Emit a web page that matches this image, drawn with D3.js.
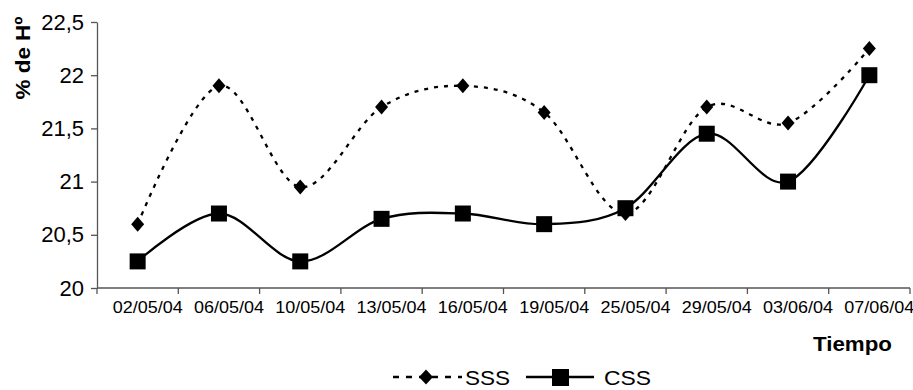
<!DOCTYPE html>
<html>
<head>
<meta charset="utf-8">
<script src="https://cdn.jsdelivr.net/npm/d3@7"></script>
<style>
  html, body { margin: 0; padding: 0; background: #fff; }
  svg { display: block; font-family: "Liberation Sans", Arial, sans-serif; }
</style>
</head>
<body>
<svg id="chart" width="913" height="390"></svg>
<script>
// Sampling dates
const dates = ["02/05/04", "06/05/04", "10/05/04", "13/05/04", "16/05/04",
               "19/05/04", "25/05/04", "29/05/04", "03/06/04", "07/06/04"];
// % humidity per series
const sss = [20.6, 21.9, 20.95, 21.7, 21.9, 21.65, 20.7, 21.7, 21.55, 22.25];
const css = [20.25, 20.7, 20.25, 20.65, 20.7, 20.6, 20.75, 21.45, 21.0, 22.0];
const yTicks = [20, 20.5, 21, 21.5, 22, 22.5];

const svg = d3.select("#chart");
const plotL = 97, plotR = 910, plotT = 22, plotB = 288;

const x = d3.scaleBand().domain(dates).range([plotL, plotR]).padding(0);
const y = d3.scaleLinear().domain([20, 22.5]).range([plotB, plotT]);
const cx = d => x(d) + x.bandwidth() / 2;
const fmt = v => String(v).replace(".", ",");

// Y axis
const yAxis = svg.append("g")
  .attr("transform", `translate(${plotL},0)`)
  .call(d3.axisLeft(y).tickValues(yTicks).tickFormat(fmt).tickSize(6).tickSizeOuter(0).tickPadding(7));
yAxis.select(".domain").attr("stroke", "#555").attr("stroke-width", 1.3);
yAxis.selectAll(".tick line").attr("stroke", "#555").attr("stroke-width", 1.3);
yAxis.selectAll(".tick text").attr("font-size", 22).attr("font-family", "Liberation Sans, Arial, sans-serif").attr("fill", "#000");

// X axis: baseline with ticks at category boundaries
const xg = svg.append("g");
xg.append("line").attr("x1", plotL).attr("x2", plotR).attr("y1", plotB).attr("y2", plotB)
  .attr("stroke", "#555").attr("stroke-width", 1.3);
const bounds = dates.map(d => x(d)).concat([x(dates[dates.length - 1]) + x.bandwidth()]);
xg.selectAll("line.tk").data(bounds).join("line").attr("class", "tk")
  .attr("x1", d => d).attr("x2", d => d).attr("y1", plotB).attr("y2", plotB + 6)
  .attr("stroke", "#555").attr("stroke-width", 1.3);
xg.selectAll("text").data(dates).join("text")
  .attr("x", d => cx(d) + 10).attr("y", plotB + 25)
  .attr("text-anchor", "middle").attr("font-size", 17)
  .attr("textLength", 70).attr("lengthAdjust", "spacingAndGlyphs")
  .attr("fill", "#000")
  .text(d => d);

// Axis titles
svg.append("text")
  .attr("transform", "translate(30,58) rotate(-90)")
  .attr("text-anchor", "middle").attr("font-size", 21).attr("font-weight", "bold")
  .attr("textLength", 83).attr("lengthAdjust", "spacingAndGlyphs")
  .text("% de Hº");
svg.append("text")
  .attr("x", 813).attr("y", 351)
  .attr("font-size", 20).attr("font-weight", "bold")
  .attr("textLength", 79).attr("lengthAdjust", "spacingAndGlyphs")
  .text("Tiempo");

// Smoothed series lines
const line = d3.line().x((d, i) => cx(dates[i])).y(d => y(d)).curve(d3.curveCatmullRom.alpha(0));
svg.append("path").datum(sss).attr("d", line).attr("fill", "none")
  .attr("stroke", "#000").attr("stroke-width", 2.3).attr("stroke-dasharray", "4,6");
svg.append("path").datum(css).attr("d", line).attr("fill", "none")
  .attr("stroke", "#000").attr("stroke-width", 2.3);

// Markers
const diamond = (px, py, w, h) => `M${px},${py - h / 2}L${px + w / 2},${py}L${px},${py + h / 2}L${px - w / 2},${py}Z`;
svg.selectAll("path.dia").data(sss).join("path").attr("class", "dia")
  .attr("d", (d, i) => diamond(cx(dates[i]), y(d), 13, 15)).attr("fill", "#000");
svg.selectAll("rect.sq").data(css).join("rect").attr("class", "sq")
  .attr("x", (d, i) => cx(dates[i]) - 8).attr("y", d => y(d) - 8)
  .attr("width", 16).attr("height", 16).attr("fill", "#000");

// Legend
const lg = svg.append("g").attr("transform", "translate(0,377)");
lg.append("line").attr("x1", 393).attr("x2", 462).attr("y1", 0).attr("y2", 0)
  .attr("stroke", "#000").attr("stroke-width", 2.3).attr("stroke-dasharray", "6,7");
lg.append("path").attr("d", diamond(426, 0, 14, 15)).attr("fill", "#000");
lg.append("text").attr("x", 465).attr("y", 7.5).attr("font-size", 21)
  .attr("textLength", 45).attr("lengthAdjust", "spacingAndGlyphs").text("SSS");
lg.append("line").attr("x1", 526).attr("x2", 594).attr("y1", 0).attr("y2", 0)
  .attr("stroke", "#000").attr("stroke-width", 2.3);
lg.append("rect").attr("x", 552).attr("y", -8).attr("width", 17).attr("height", 17).attr("fill", "#000");
lg.append("text").attr("x", 604).attr("y", 7.5).attr("font-size", 21)
  .attr("textLength", 47).attr("lengthAdjust", "spacingAndGlyphs").text("CSS");
</script>
</body>
</html>
